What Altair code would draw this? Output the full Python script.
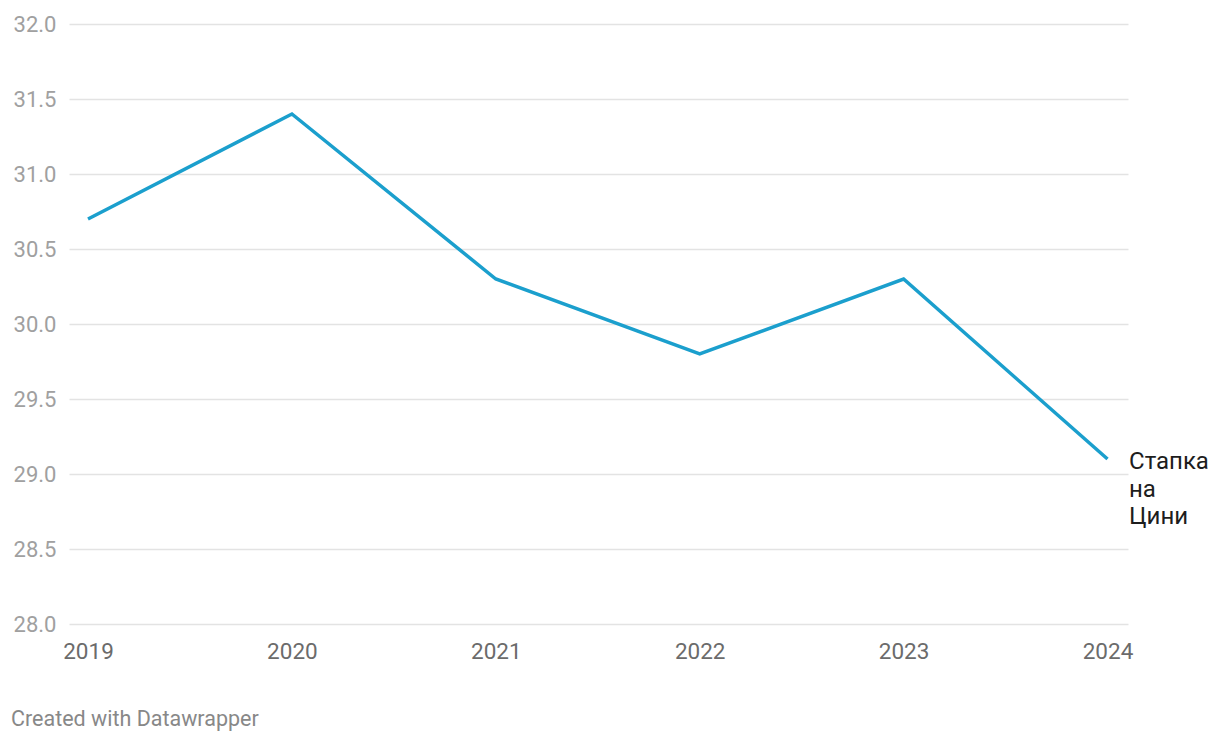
import altair as alt
import pandas as pd

years = [2019, 2020, 2021, 2022, 2023, 2024]
values = [30.7, 31.4, 30.3, 29.8, 30.3, 29.1]
series_label = "Стапка\nна\nЦини"
y_ticks = [28.0, 28.5, 29.0, 29.5, 30.0, 30.5, 31.0, 31.5, 32.0]
footer = "Created with Datawrapper"

df = pd.DataFrame({"year": years, "value": values})
last = df.tail(1).assign(label=series_label)

FONT = "Roboto"

x = alt.X(
    "year:Q",
    scale=alt.Scale(domain=[2018.9068, 2024.1005], nice=False, zero=False),
    axis=alt.Axis(
        values=years, format="d", title=None, grid=False, domain=False, ticks=False,
        labelFont=FONT, labelFontSize=22.5, labelColor="#6b6b6b", labelPadding=16,
        labelFlush=False,
    ),
)
y = alt.Y(
    "value:Q",
    scale=alt.Scale(domain=[28, 32], nice=False, zero=False),
    axis=alt.Axis(
        values=y_ticks, format=".1f", title=None, grid=True, gridColor="#e3e3e3",
        gridWidth=1.5, domain=False, ticks=False, labelFont=FONT, labelFontSize=22,
        labelColor="#a0a0a0", labelPadding=13, labelBaseline="middle",
    ),
)

line = alt.Chart(df).mark_line(color="#1b9fcd", strokeWidth=3.5).encode(x=x, y=y)

label = alt.Chart(last).mark_text(
    align="left", baseline="alphabetic", dx=21.5, dy=10, font=FONT, fontSize=24,
    color="#1d1d1d", lineBreak="\n", lineHeight=27.5,
).encode(x="year:Q", y="value:Q", text="label:N")

foot = alt.Chart(pd.DataFrame({"t": [footer]})).mark_text(
    align="left", baseline="alphabetic", font=FONT, fontSize=21.5, color="#888888",
).encode(x=alt.value(-58), y=alt.value(702), text="t:N")

chart = (
    alt.layer(line, label, foot)
    .properties(
        width=1059, height=600,
        autosize=alt.AutoSizeParams(type="none"),
        padding={"left": 61, "top": 16, "right": 84, "bottom": 108},
        background="white",
    )
    .configure_view(stroke=None)
)

chart.save("out.html", embed_options={"renderer": "svg", "actions": False})
